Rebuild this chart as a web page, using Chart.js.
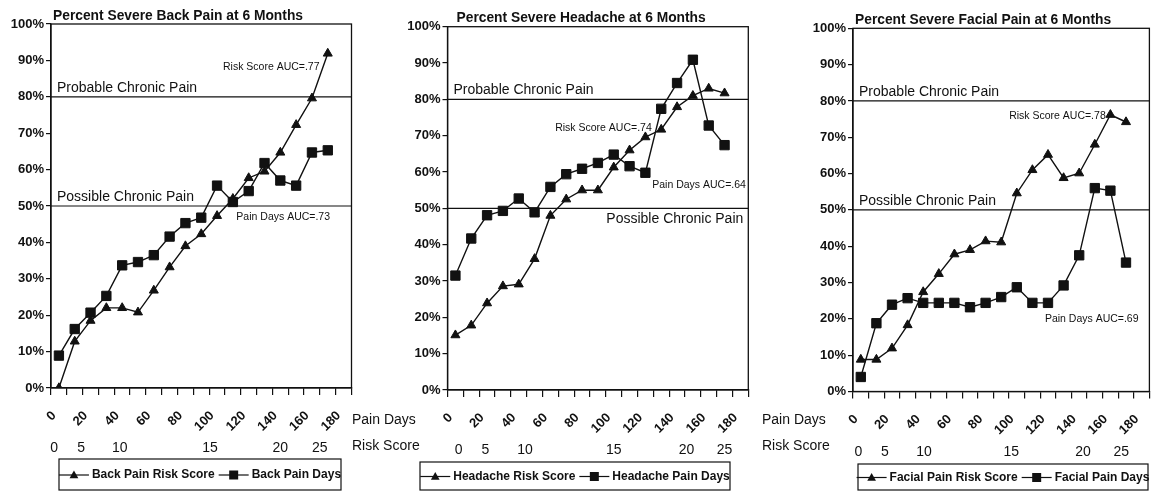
<!DOCTYPE html>
<html><head><meta charset="utf-8">
<script src="https://cdn.jsdelivr.net/npm/chart.js@4.4.1/dist/chart.umd.min.js"></script>
<style>
html,body{margin:0;padding:0;background:#fff;}
#wrap{position:relative;width:1157px;height:493px;overflow:hidden;background:#fff;}
canvas{position:absolute;left:0;top:0;}
</style></head><body><div id="wrap">
<canvas id="c1" width="1157" height="493"></canvas>
<canvas id="c2" width="1157" height="493"></canvas>
<canvas id="c3" width="1157" height="493"></canvas>
</div>
<script>
// ---- data ----
const categories = ['0','10','20','30','40','50','60','70','80','90','100','110','120','130','140','150','160','170','180'];
const painDayTicks = [0,20,40,60,80,100,120,140,160,180];
const riskScoreTicks = ['0','5','10','15','20','25'];
// where each risk-score label falls on the pain-day scale (per panel)
const backRiskAt = [2,19,43.5,100.5,145,170];
const headRiskAt = [7,24,49,105,151,175];
const faceRiskAt = [3.5,20.5,45.5,101.5,147.5,172];

const backRiskScore = [0,12.8,18.5,22,22,20.8,26.8,33.2,39,42.3,47.3,52,57.7,59.5,64.7,72.3,79.6,91.9];
const backPainDays  = [8.9,16.2,20.7,25.3,33.7,34.6,36.5,41.6,45.3,46.8,55.6,51.1,54.1,61.8,57,55.6,64.7,65.3];
const headRiskScore = [15.1,17.8,23.9,28.6,29.1,36.1,48,52.5,55,55,61.3,66,69.6,71.7,77.9,81,83,81.7];
const headPainDays  = [31.5,41.7,48.1,49.3,52.7,48.9,55.9,59.4,60.9,62.5,64.8,61.6,59.8,77.4,84.5,90.9,72.8,67.4];
const faceRiskScore = [8.8,8.8,11.9,18.3,27.4,32.4,37.8,39,41.4,41.1,54.6,61,65.2,58.8,60.1,68,76.2,74.2];
const facePainDays  = [4,18.8,23.9,25.7,24.4,24.4,24.4,23.2,24.4,26,28.7,24.4,24.4,29.2,37.5,56,55.3,35.5];

// ---- fonts ----
const SANS = '"Liberation Sans", Arial, Helvetica, sans-serif';
const legendFont = 'bold 12px '+SANS;
const INK = '#111';

function drawMarker(ctx, style, x, y){
  ctx.beginPath();
  if(style==='triangle'){
    const r=4.6;
    ctx.moveTo(x, y-r); ctx.lineTo(x+r*0.95, y+r*0.7); ctx.lineTo(x-r*0.95, y+r*0.7); ctx.closePath();
  } else {
    ctx.rect(x-4.5, y-4.5, 9, 9);
  }
  ctx.fillStyle=INK; ctx.fill();
}

const extrasPlugin = {
  id:'extras',
  afterDraw(chart, args, o){
    const ctx=chart.ctx, a=chart.chartArea, xs=chart.scales.x, ys=chart.scales.y;
    ctx.save();
    // frame
    ctx.strokeStyle=INK; ctx.lineWidth=1.3;
    ctx.strokeRect(a.left, a.top, a.right-a.left, a.bottom-a.top);
    // title
    ctx.fillStyle=INK; ctx.font='bold 13.8px '+SANS; ctx.textAlign='left'; ctx.textBaseline='alphabetic';
    ctx.fillText(o.title, a.left+o.titleDx, a.top-4.5);
    // reference lines
    ctx.lineWidth=1.2;
    o.refLines.forEach(r=>{
      const y=ys.getPixelForValue(r.value);
      ctx.beginPath(); ctx.moveTo(a.left,y); ctx.lineTo(a.right,y); ctx.stroke();
      ctx.font='14px '+SANS;
      if(r.below){
        ctx.textAlign='right'; ctx.textBaseline='top';
        ctx.fillText(r.label, a.right-5, y+4);
      } else {
        ctx.textAlign='left'; ctx.textBaseline='bottom';
        ctx.fillText(r.label, a.left+6, y-2);
      }
    });
    // AUC notes
    ctx.font='10.5px '+SANS; ctx.textBaseline='middle';
    o.notes.forEach(n=>{
      ctx.textAlign=n.align;
      ctx.fillText(n.text, xs.getPixelForValue(n.x), ys.getPixelForValue(n.y));
    });
    // side axis names
    if(o.sideX){
      const rs=chart.scales.rs;
      ctx.font='14px '+SANS; ctx.textAlign='left'; ctx.textBaseline='middle';
      ctx.fillText('Pain Days', o.sideX, 420);
      ctx.fillText('Risk Score', o.sideX, 446);
    }
    // legend
    const L=o.legend;
    ctx.lineWidth=1.2; ctx.strokeStyle=INK;
    ctx.strokeRect(L.x, L.y, L.w, L.h);
    ctx.font=legendFont; ctx.textAlign='left'; ctx.textBaseline='middle';
    const items=chart.data.datasets.map(d=>({label:d.label, style:d.pointStyle}));
    const lineLen=30, g1=3, g2=4;
    let total=0; items.forEach((it,i)=>{ total+=lineLen+g1+ctx.measureText(it.label).width + (i<items.length-1?g2:0); });
    let x=L.x+(L.w-total)/2; const cy=L.y+L.h/2+0.5;
    items.forEach(it=>{
      ctx.beginPath(); ctx.moveTo(x,cy); ctx.lineTo(x+lineLen,cy); ctx.lineWidth=1.2; ctx.stroke();
      drawMarker(ctx, it.style, x+lineLen/2, cy);
      x+=lineLen+g1;
      ctx.fillStyle=INK; ctx.fillText(it.label, x, cy);
      x+=ctx.measureText(it.label).width+g2;
    });
    ctx.restore();
  }
};

function zeroPad(s){ s.paddingLeft=0; s.paddingRight=0; s.paddingTop=0; s.paddingBottom=0; }

function makePanel(id, p){
  const W=1157, H=493, yW=46, hMain=7, hPd=44, hRs=18;
  const padding={left:p.left-yW, right:W-p.right, top:p.top, bottom:H-p.bottom-hMain-hPd-hRs};
  new Chart(document.getElementById(id), {
    type:'line',
    data:{labels:categories, datasets:[
      {label:p.names[0], data:p.risk, pointStyle:'triangle', pointRadius:5.2, borderColor:INK, backgroundColor:INK,
       pointBackgroundColor:INK, pointBorderColor:INK, borderWidth:1.4, pointBorderWidth:1, tension:0},
      {label:p.names[1], data:p.days, pointStyle:'rect', pointRadius:6.6, borderColor:INK, backgroundColor:INK,
       pointBackgroundColor:INK, pointBorderColor:INK, borderWidth:1.4, pointBorderWidth:1, tension:0}
    ]},
    options:{
      responsive:false, animation:false, devicePixelRatio:1,
      layout:{padding},
      plugins:{legend:{display:false}, tooltip:{enabled:false}, extras:p.extras},
      scales:{
        x:{type:'category', position:'bottom', offset:true, weight:0,
           grid:{offset:true, drawOnChartArea:false, drawTicks:true, tickLength:hMain, color:INK, lineWidth:1.2},
           border:{display:true, color:INK, width:1.3},
           ticks:{display:false},
           afterFit:s=>{s.height=hMain; zeroPad(s);}},
        pd:{type:'linear', axis:'x', position:'bottom', weight:1, min:0, max:190,
            grid:{display:false, drawTicks:false}, border:{display:false},
            afterBuildTicks:s=>{ s.ticks=painDayTicks.map(v=>({value:v})); },
            ticks:{autoSkip:false, minRotation:45, maxRotation:45, padding:13, labelOffset:3, color:INK,
                   font:{family:SANS, size:13, weight:'bold'}, callback:(v)=>String(v)},
            afterFit:s=>{s.height=hPd; zeroPad(s);}},
        rs:{type:'linear', axis:'x', position:'bottom', weight:2, min:0, max:190,
            grid:{display:false, drawTicks:false}, border:{display:false},
            afterBuildTicks:s=>{ s.ticks=p.riskAt.map(v=>({value:v})); },
            ticks:{autoSkip:false, maxRotation:0, minRotation:0, padding:1, color:INK,
                   font:{family:SANS, size:14}, callback:(v,i)=>riskScoreTicks[i]},
            afterFit:s=>{s.height=hRs; zeroPad(s);}},
        y:{min:0, max:100,
           ticks:{stepSize:10, color:INK, padding:2, font:{family:SANS, size:13, weight:'bold'}, callback:v=>v+'%'},
           grid:{drawOnChartArea:false, drawTicks:true, tickLength:5, color:INK, lineWidth:1.2},
           border:{display:true, color:INK, width:1.3},
           afterFit:s=>{s.width=yW; zeroPad(s);}}
      }
    },
    plugins:[extrasPlugin]
  });
}

makePanel('c1', {left:51, right:351.5, top:24, bottom:388,
  names:['Back Pain Risk Score','Back Pain Days'], risk:backRiskScore, days:backPainDays, riskAt:backRiskAt,
  extras:{title:'Percent Severe Back Pain at 6 Months', titleDx:2,
    refLines:[{value:80,label:'Probable Chronic Pain'},{value:50,label:'Possible Chronic Pain'}],
    notes:[{text:'Risk Score AUC=.77', x:16.48, y:88.2, align:'right'},{text:'Pain Days AUC=.73', x:11.22, y:47, align:'left'}],
    sideX:352, legend:{x:59, y:459, w:282, h:31}}});

makePanel('c2', {left:447.5, right:748.3, top:26.7, bottom:390,
  names:['Headache Risk Score','Headache Pain Days'], risk:headRiskScore, days:headPainDays, riskAt:headRiskAt,
  extras:{title:'Percent Severe Headache at 6 Months', titleDx:9,
    refLines:[{value:80,label:'Probable Chronic Pain'},{value:50,label:'Possible Chronic Pain', below:true}],
    notes:[{text:'Risk Score AUC=.74', x:6.3, y:72.1, align:'left'},{text:'Pain Days AUC=.64', x:18.35, y:56.3, align:'right'}],
    sideX:762, legend:{x:420, y:462, w:310, h:28}}});

makePanel('c3', {left:853, right:1153, top:28.3, bottom:391.5,
  names:['Facial Pain Risk Score','Facial Pain Days'], risk:faceRiskScore, days:facePainDays, riskAt:faceRiskAt,
  extras:{title:'Percent Severe Facial Pain at 6 Months', titleDx:2,
    refLines:[{value:80,label:'Probable Chronic Pain'},{value:50,label:'Possible Chronic Pain'}],
    notes:[{text:'Risk Score AUC=.78', x:15.7, y:75.8, align:'right'},{text:'Pain Days AUC=.69', x:11.8, y:20, align:'left'}],
    sideX:null, legend:{x:858, y:464, w:290, h:26}}});
</script>
</body></html>
